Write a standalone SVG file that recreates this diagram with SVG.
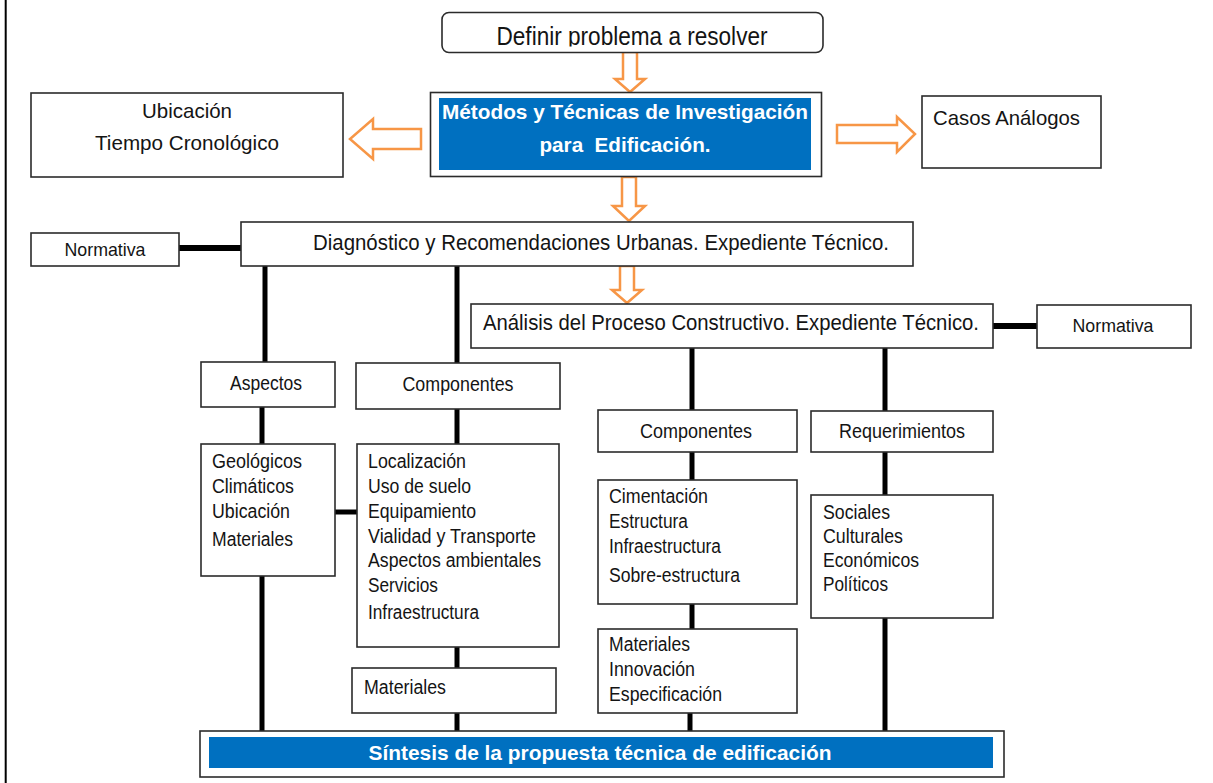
<svg xmlns="http://www.w3.org/2000/svg" width="1213" height="783" viewBox="0 0 1213 783">
<style>
.box{fill:#fff;stroke:#2b2b2b;stroke-width:1.6}
.t{font-family:"Liberation Sans",Arial,sans-serif;font-size:20px;fill:#141414}
.c{text-anchor:middle}
.w{font-weight:bold;fill:#fff;font-size:21px;white-space:pre}
.blue{fill:#0070C0}
.conn{stroke:#000;stroke-width:5;fill:none}
.arr{fill:#fff;stroke:#F79646;stroke-width:2.5;stroke-linejoin:miter}
</style>
<defs>
<clipPath id="clipDef"><rect x="442" y="12" width="382" height="34.5"/></clipPath>
</defs>
<rect x="0" y="0" width="1213" height="783" fill="#fff"/>
<rect x="4.7" y="0" width="2" height="783" fill="#000"/>

<g id="connectors">
<path class="conn" d="M179,248 H241" style="stroke-width:6"/>
<path class="conn" d="M993,326 H1037" style="stroke-width:6"/>
<path class="conn" d="M265,266 V362"/>
<path class="conn" d="M457,266 V363"/>
<path class="conn" d="M692,348 V410"/>
<path class="conn" d="M885,348 V411"/>
<path class="conn" d="M262,407 V444"/>
<path class="conn" d="M457,409 V444"/>
<path class="conn" d="M335,512 H357"/>
<path class="conn" d="M262,576 V731"/>
<path class="conn" d="M457,647 V668"/>
<path class="conn" d="M457,713 V738"/>
<path class="conn" d="M692,452 V480"/>
<path class="conn" d="M692,604 V629"/>
<path class="conn" d="M690,713 V738"/>
<path class="conn" d="M885,452 V495"/>
<path class="conn" d="M885,618 V731"/>
<path class="arr" d="M623,52 H637 V79 H645 L630,92 L615,79 H623 Z"/>
<path class="arr" d="M622,177 H636 V206 H645 L629,221 L613,206 H622 Z"/>
<path class="arr" d="M620,266 H634 V290 H642 L627,303 L612,290 H620 Z"/>
<path class="arr" d="M421,129 V149 H373 V159 L350,139 L373,119 V129 Z"/>
<path class="arr" d="M837,125 V143 H897 V152 L915,134 L897,117 V125 Z"/>
</g>

<g id="definir">
<rect class="box" x="442" y="12.5" width="381" height="40" rx="7"/>
<text class="t c" x="632" y="44.5" style="font-size:25px" textLength="271" lengthAdjust="spacingAndGlyphs" clip-path="url(#clipDef)">Definir problema a resolver</text>
</g>

<g id="metodos">
<rect class="box" x="430.5" y="92.5" width="391" height="84"/>
<rect class="blue" x="439" y="98" width="372" height="72"/>
<text class="t c w" x="625" y="119" textLength="366" lengthAdjust="spacingAndGlyphs">Métodos y Técnicas de Investigación</text>
<text class="t c w" x="625" y="151.5" textLength="171" lengthAdjust="spacingAndGlyphs" xml:space="preserve">para  Edificación.</text>
</g>

<g id="ubicacion">
<rect class="box" x="31" y="93" width="312" height="84"/>
<text class="t c" x="187" y="118" style="font-size:21px" textLength="90" lengthAdjust="spacingAndGlyphs">Ubicación</text>
<text class="t c" x="187" y="150" style="font-size:21px" textLength="184" lengthAdjust="spacingAndGlyphs">Tiempo Cronológico</text>
</g>

<g id="casos">
<rect class="box" x="922" y="96" width="179" height="72"/>
<text class="t" x="933" y="125" style="font-size:21px" textLength="147" lengthAdjust="spacingAndGlyphs">Casos Análogos</text>
</g>

<g id="normativa1">
<rect class="box" x="31" y="233" width="148" height="33"/>
<text class="t c" x="105" y="256" style="font-size:19px" textLength="81" lengthAdjust="spacingAndGlyphs">Normativa</text>
</g>

<g id="diagnostico">
<rect class="box" x="241" y="222" width="672" height="44"/>
<text class="t c" x="601" y="250" style="font-size:22px" textLength="576" lengthAdjust="spacingAndGlyphs">Diagnóstico y Recomendaciones Urbanas. Expediente Técnico.</text>
</g>

<g id="analisis">
<rect class="box" x="471" y="304" width="522" height="44"/>
<text class="t" x="483" y="330" style="font-size:22px" textLength="496" lengthAdjust="spacingAndGlyphs">Análisis del Proceso Constructivo. Expediente Técnico.</text>
</g>

<g id="normativa2">
<rect class="box" x="1037" y="305" width="154" height="43"/>
<text class="t c" x="1113" y="332" style="font-size:19px" textLength="81" lengthAdjust="spacingAndGlyphs">Normativa</text>
</g>

<g id="aspectos">
<rect class="box" x="201" y="362" width="134" height="45"/>
<text class="t c" x="266" y="390" textLength="72" lengthAdjust="spacingAndGlyphs">Aspectos</text>
</g>

<g id="componentes1">
<rect class="box" x="356" y="363" width="204" height="46"/>
<text class="t c" x="458" y="391" textLength="111" lengthAdjust="spacingAndGlyphs">Componentes</text>
</g>

<g id="geologicos">
<rect class="box" x="201" y="444" width="134" height="132"/>
<text class="t" x="212" y="468" textLength="90" lengthAdjust="spacingAndGlyphs">Geológicos</text>
<text class="t" x="212" y="493" textLength="82" lengthAdjust="spacingAndGlyphs">Climáticos</text>
<text class="t" x="212" y="518" textLength="78" lengthAdjust="spacingAndGlyphs">Ubicación</text>
<text class="t" x="212" y="546" textLength="81" lengthAdjust="spacingAndGlyphs">Materiales</text>
</g>

<g id="localizacion">
<rect class="box" x="357" y="444" width="202" height="203"/>
<text class="t" x="368" y="468" textLength="98" lengthAdjust="spacingAndGlyphs">Localización</text>
<text class="t" x="368" y="493" textLength="103" lengthAdjust="spacingAndGlyphs">Uso de suelo</text>
<text class="t" x="368" y="518" textLength="108" lengthAdjust="spacingAndGlyphs">Equipamiento</text>
<text class="t" x="368" y="543" textLength="168" lengthAdjust="spacingAndGlyphs">Vialidad y Transporte</text>
<text class="t" x="368" y="567" textLength="173" lengthAdjust="spacingAndGlyphs">Aspectos ambientales</text>
<text class="t" x="368" y="592" textLength="70" lengthAdjust="spacingAndGlyphs">Servicios</text>
<text class="t" x="368" y="619" textLength="111" lengthAdjust="spacingAndGlyphs">Infraestructura</text>
</g>

<g id="materiales1">
<rect class="box" x="352" y="668" width="204" height="45"/>
<text class="t" x="364" y="694" textLength="82" lengthAdjust="spacingAndGlyphs">Materiales</text>
</g>

<g id="componentes2">
<rect class="box" x="598" y="410" width="199" height="42"/>
<text class="t c" x="696" y="438" textLength="112" lengthAdjust="spacingAndGlyphs">Componentes</text>
</g>

<g id="requerimientos">
<rect class="box" x="811" y="411" width="182" height="41"/>
<text class="t c" x="902" y="438" textLength="126" lengthAdjust="spacingAndGlyphs">Requerimientos</text>
</g>

<g id="cimentacion">
<rect class="box" x="598" y="480" width="199" height="124"/>
<text class="t" x="609" y="503" textLength="99" lengthAdjust="spacingAndGlyphs">Cimentación</text>
<text class="t" x="609" y="528" textLength="79" lengthAdjust="spacingAndGlyphs">Estructura</text>
<text class="t" x="609" y="553" textLength="112" lengthAdjust="spacingAndGlyphs">Infraestructura</text>
<text class="t" x="609" y="582" textLength="131" lengthAdjust="spacingAndGlyphs">Sobre-estructura</text>
</g>

<g id="materiales2">
<rect class="box" x="598" y="629" width="199" height="84"/>
<text class="t" x="609" y="651" textLength="81" lengthAdjust="spacingAndGlyphs">Materiales</text>
<text class="t" x="609" y="676" textLength="86" lengthAdjust="spacingAndGlyphs">Innovación</text>
<text class="t" x="609" y="701" textLength="113" lengthAdjust="spacingAndGlyphs">Especificación</text>
</g>

<g id="sociales">
<rect class="box" x="811" y="495" width="182" height="123"/>
<text class="t" x="823" y="519" textLength="67" lengthAdjust="spacingAndGlyphs">Sociales</text>
<text class="t" x="823" y="543" textLength="80" lengthAdjust="spacingAndGlyphs">Culturales</text>
<text class="t" x="823" y="567" textLength="96" lengthAdjust="spacingAndGlyphs">Económicos</text>
<text class="t" x="823" y="591" textLength="65" lengthAdjust="spacingAndGlyphs">Políticos</text>
</g>

<g id="sintesis">
<rect class="box" x="200" y="731" width="804" height="46"/>
<rect class="blue" x="209" y="737" width="784" height="31"/>
<text class="t c w" x="600" y="760" textLength="463" lengthAdjust="spacingAndGlyphs">Síntesis de la propuesta técnica de edificación</text>
</g>
</svg>
